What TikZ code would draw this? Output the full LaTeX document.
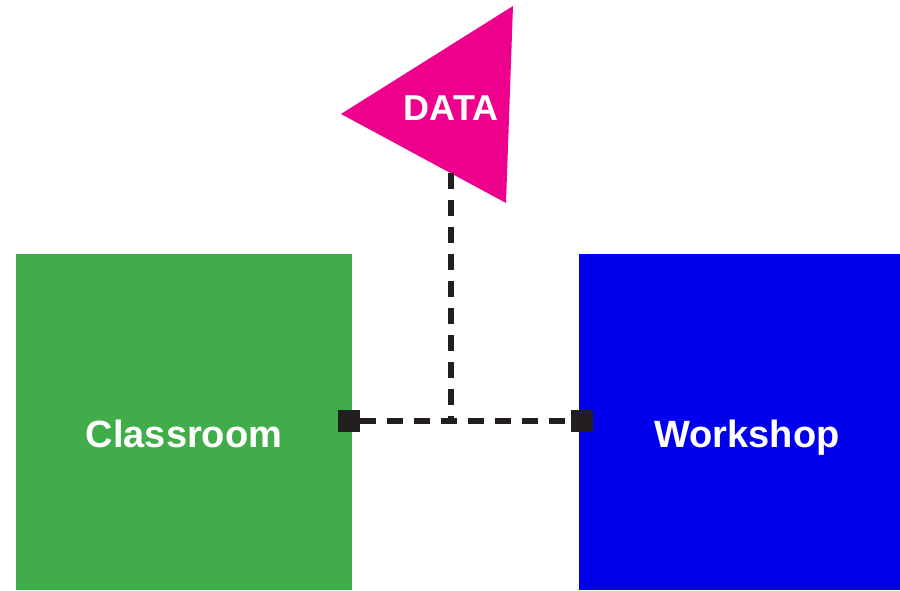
\documentclass[tikz,border=0pt]{standalone}
\usepackage{fontspec}
\setmainfont{Liberation Sans}
\usetikzlibrary{positioning}
\definecolor{roomgreen}{HTML}{41AD4A}
\definecolor{shopblue}{HTML}{0000EC}
\definecolor{datapink}{HTML}{EC008C}
\definecolor{linkdark}{HTML}{231F20}

\begin{document}
\begin{tikzpicture}[
  x=1pt, y=1pt,
  place/.style={minimum width=336pt, minimum height=336pt, inner sep=0pt,
    text=white, font=\bfseries\fontsize{38}{45}\selectfont,
    text height=51pt, text depth=0pt},
  port/.style={fill=linkdark, minimum size=22pt, inner sep=0pt},
  link/.style={draw=linkdark, line width=5.5pt, dash pattern=on 16pt off 11pt}
]
\useasboundingbox (0,0) rectangle (900,590);
\clip (0,0) rectangle (900,590);

\node[place, fill=roomgreen] (classroom) at (184,168) {Classroom};
\node[place, fill=shopblue] (workshop) at (747,168) {Workshop};

% data triangle
\coordinate (dleft) at (341,476);
\coordinate (dtop) at (513,584);
\coordinate (dbot) at (506,387);
\fill[datapink] (dleft) -- (dtop) -- (dbot) -- cycle;
\node[text=white, font=\bfseries\fontsize{36}{42}\selectfont, inner sep=0pt] (data) at (451,482) {DATA};

\coordinate (tip) at (451,417);
\coordinate (junction) at (451,169);

\draw[link] (tip) -- (junction);
\node[port] (classport) at (349,169) {};
\node[port] (workport) at (582,169) {};
\draw[link] (classport) -- (workport);

\end{tikzpicture}
\end{document}
